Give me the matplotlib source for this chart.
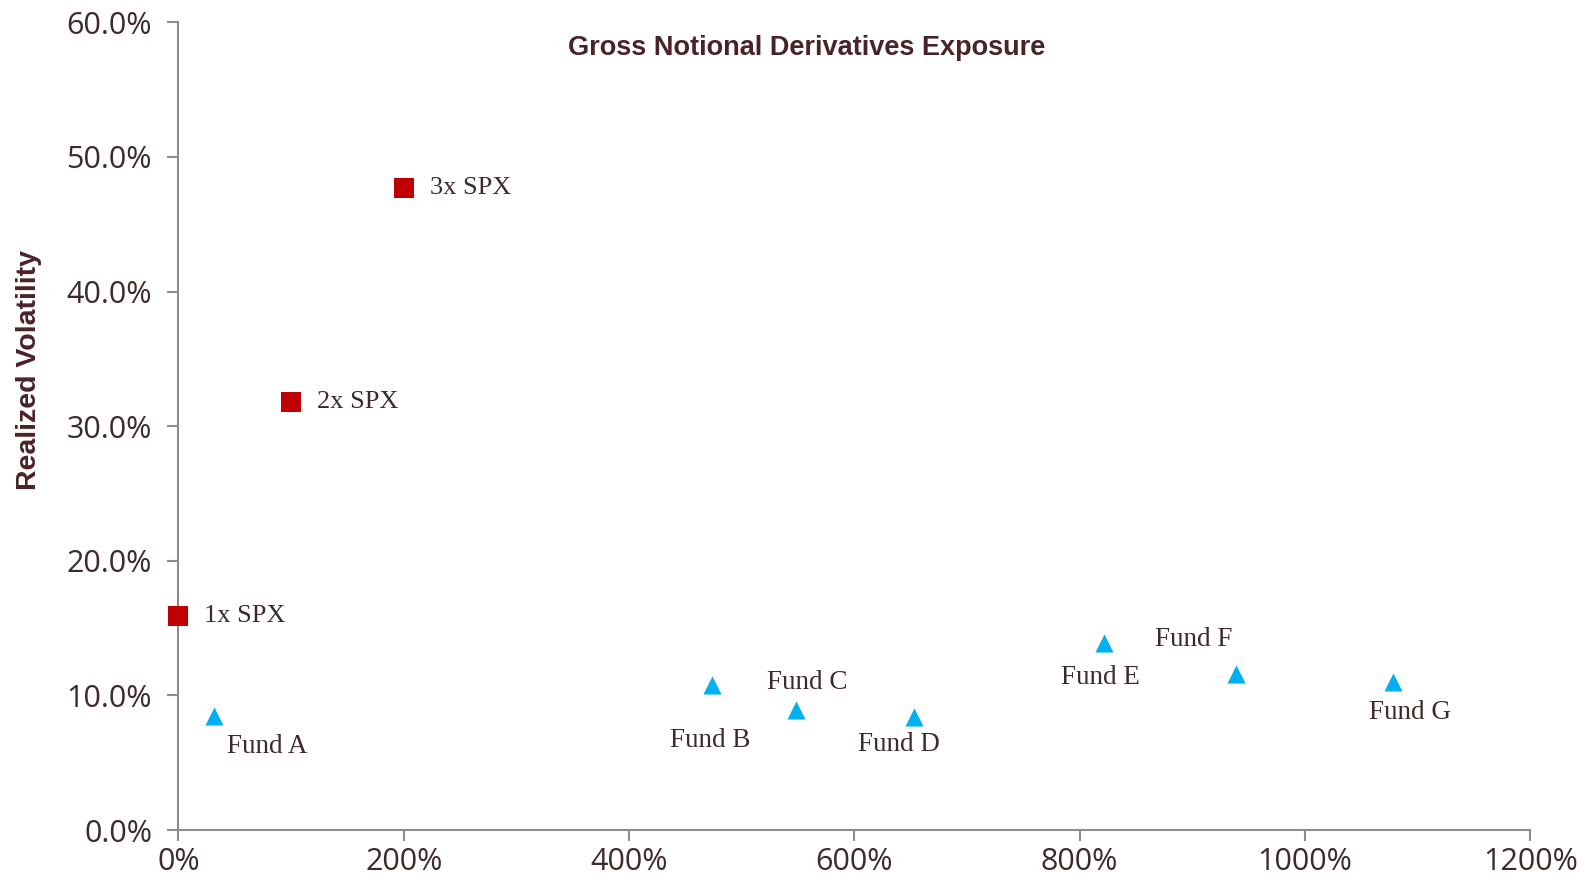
import matplotlib
matplotlib.use("Agg")
import matplotlib.pyplot as plt
from matplotlib.ticker import FuncFormatter

spx_names = ["1x SPX", "2x SPX", "3x SPX"]
spx_x = [0, 100, 200]
spx_y = [15.9, 31.8, 47.7]

fund_names = ["Fund A", "Fund B", "Fund C", "Fund D", "Fund E", "Fund F", "Fund G"]
fund_x = [32, 474, 548, 653, 822, 939, 1078]
fund_y = [8.5, 10.8, 8.9, 8.4, 13.9, 11.6, 11.0]

x_ticks = [0, 200, 400, 600, 800, 1000, 1200]
y_ticks = [0, 10, 20, 30, 40, 50, 60]

text_col = "#3f2a2b"
title_col = "#4a2328"
spine_col = "#8c8c8c"

fig = plt.figure(figsize=(15.89, 8.83), dpi=100)
ax = fig.add_axes([0.1123, 0.060, 0.8507, 0.9147])

ax.scatter(spx_x, spx_y, marker="s", s=190, color="#C00000", zorder=3, linewidths=0)
ax.scatter(fund_x, fund_y, marker="^", s=170, color="#00B0F0", zorder=3, linewidths=0)

ax.set_xlim(0, 1200)
ax.set_ylim(0, 60)
ax.set_xticks(x_ticks)
ax.set_yticks(y_ticks)
ax.xaxis.set_major_formatter(FuncFormatter(lambda v, p: f"{v:.0f}%"))
ax.yaxis.set_major_formatter(FuncFormatter(lambda v, p: f"{v:.1f}%"))

for s in ["top", "right"]:
    ax.spines[s].set_visible(False)
for s in ["left", "bottom"]:
    ax.spines[s].set_color(spine_col)
    ax.spines[s].set_linewidth(1.5)
ax.tick_params(axis="both", direction="out", length=8, width=1.5, color=spine_col,
               labelcolor=text_col, labelsize=22, pad=4)
ax.tick_params(axis="y", pad=11)
for lab in ax.get_xticklabels() + ax.get_yticklabels():
    lab.set_fontfamily("Open Sans")
    lab.set_fontweight("normal")
for c in ax.collections:
    c.set_clip_on(False)

ax.set_ylabel("Realized Volatility", fontsize=20.5, fontweight="bold", color=title_col,
              family="Liberation Sans")
ax.yaxis.set_label_coords(-0.101, 0.57)
ax.text(0.465, 0.968, "Gross Notional Derivatives Exposure", transform=ax.transAxes,
        ha="center", va="center", fontsize=19.5, fontweight="bold", color=title_col,
        family="Liberation Sans")

serif = "Liberation Serif"
for n, x, y in zip(spx_names, spx_x, spx_y):
    ax.annotate(n, (x, y), xytext=(26, 0), textcoords="offset pixels",
                ha="left", va="center", fontsize=19, color=text_col, family=serif)

fund_offsets = [(13, -31, "left"), (-2, -56, "center"), (12, 28, "center"),
                (-15, -28, "center"), (-4, -35, "center"), (-43, 34, "center"),
                (17, -31, "center")]
for n, x, y, (dx, dy, ha) in zip(fund_names, fund_x, fund_y, fund_offsets):
    ax.annotate(n, (x, y), xytext=(dx, dy), textcoords="offset pixels",
                ha=ha, va="center", fontsize=19.5, color=text_col, family=serif)

fig.savefig("out.png", dpi=100)
